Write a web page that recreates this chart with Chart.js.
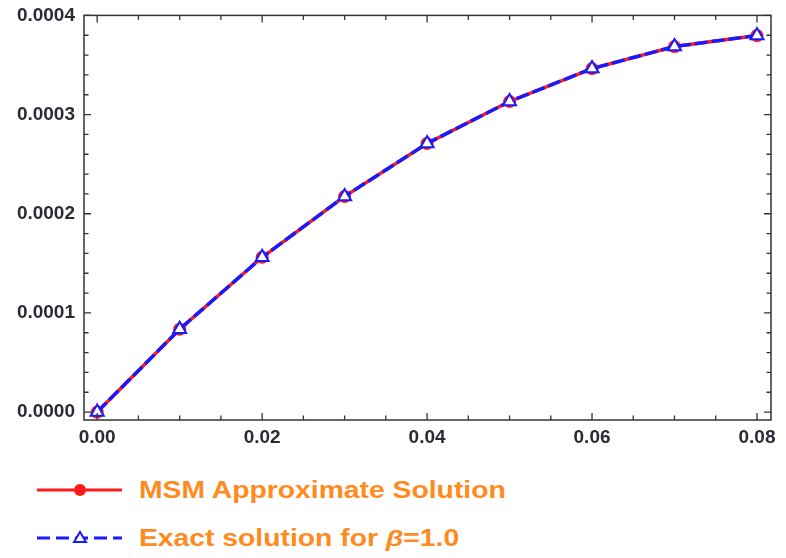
<!DOCTYPE html>
<html>
<head>
<meta charset="utf-8">
<script src="https://cdn.jsdelivr.net/npm/chart.js@4.4.1/dist/chart.umd.min.js"></script>
<style>
  html, body { margin: 0; padding: 0; background: #fff; }
  #wrap { position: relative; width: 786px; height: 558px; overflow: hidden; }
  #chartBox { position: absolute; left: 0; top: -5px; width: 786px; height: 465px; }
  .legend { position: absolute; left: 37px; display: flex; align-items: center; }
  .legend canvas { margin-right: 17px; }
  .legend span { font-family: "Liberation Sans", Arial, sans-serif; font-weight: bold; font-size: 23px;
                 color: #ff8a1e; display: inline-block; transform: scaleX(1.23); transform-origin: left center;
                 white-space: nowrap; }
</style>
</head>
<body>
<div id="wrap">
  <div id="chartBox"><canvas id="chart"></canvas></div>
  <div class="legend" id="leg1" style="top:476px"><canvas id="sw1" width="85" height="28"></canvas><span>MSM Approximate Solution</span></div>
  <div class="legend" id="leg2" style="top:524px"><canvas id="sw2" width="85" height="28"></canvas><span>Exact solution for <i>β</i>=1.0</span></div>
</div>
<script>
const tValues = [0.00, 0.01, 0.02, 0.03, 0.04, 0.05, 0.06, 0.07, 0.08];
const msmValues = [0.0000000, 0.0000836, 0.0001561, 0.0002175, 0.0002709, 0.0003132, 0.0003464, 0.0003686, 0.0003797];
const exactValues = [0.0000000, 0.0000836, 0.0001561, 0.0002175, 0.0002709, 0.0003132, 0.0003464, 0.0003686, 0.0003797];
const xTickValues = [0, 0.005, 0.01, 0.015, 0.02, 0.025, 0.03, 0.035, 0.04, 0.045, 0.05, 0.055, 0.06, 0.065, 0.07, 0.075, 0.08];
const yTickValues = [0, 0.00002, 0.00004, 0.00006, 0.00008, 0.0001, 0.00012, 0.00014, 0.00016, 0.00018, 0.0002,
                     0.00022, 0.00024, 0.00026, 0.00028, 0.0003, 0.00032, 0.00034, 0.00036, 0.00038, 0.0004];

const RED = '#ff1a1a';
const BLUE = '#1a1aff';
const labelColor = '#2b2b38';

function isMajor(v, step) {
    const r = v / step;
    return Math.abs(r - Math.round(r)) < 1e-6;
}

// frame + inward ticks on all four sides
const framePlugin = {
    id: 'frame',
    afterDatasetsDraw(chart) {
        const { ctx, chartArea: a, scales } = chart;
        ctx.save();
        ctx.strokeStyle = '#333';
        ctx.lineWidth = 1.5;
        ctx.strokeRect(a.left, a.top, a.right - a.left, a.bottom - a.top);
        ctx.lineWidth = 1.3;
        ctx.beginPath();
        xTickValues.forEach(v => {
            const x = scales.x.getPixelForValue(v);
            const len = isMajor(v, 0.02) ? 7 : 4.5;
            ctx.moveTo(x, a.bottom); ctx.lineTo(x, a.bottom - len);
            ctx.moveTo(x, a.top); ctx.lineTo(x, a.top + len);
        });
        yTickValues.forEach(v => {
            const y = scales.y.getPixelForValue(v);
            const len = isMajor(v, 0.0001) ? 7 : 4.5;
            ctx.moveTo(a.left, y); ctx.lineTo(a.left + len, y);
            ctx.moveTo(a.right, y); ctx.lineTo(a.right - len, y);
        });
        ctx.stroke();
        ctx.restore();
    }
};

const tickFont = { family: 'Liberation Sans', weight: 'bold', size: 19 };

new Chart(document.getElementById('chart'), {
    type: 'line',
    data: {
        labels: tValues,
        datasets: [
            {
                label: 'MSM Approximate Solution',
                data: tValues.map((t, i) => ({ x: t, y: msmValues[i] })),
                borderColor: RED,
                backgroundColor: RED,
                borderWidth: 3.5,
                pointStyle: 'circle',
                pointRadius: 6.5,
                pointBorderWidth: 0,
                tension: 0,
                order: 2
            },
            {
                label: 'Exact solution for β=1.0',
                data: tValues.map((t, i) => ({ x: t, y: exactValues[i] })),
                borderColor: BLUE,
                backgroundColor: '#ffffff',
                borderWidth: 3.5,
                borderDash: [13, 4],
                pointStyle: 'triangle',
                pointRadius: 7.5,
                pointBorderWidth: 2,
                pointBorderColor: BLUE,
                tension: 0,
                order: 1
            }
        ]
    },
    options: {
        responsive: true,
        maintainAspectRatio: false,
        animation: false,
        layout: { padding: { top: 5, right: 15, left: 0, bottom: 0 } },
        plugins: {
            legend: { display: false },
            tooltip: { enabled: false }
        },
        scales: {
            x: {
                type: 'linear',
                min: -0.0016,
                max: 0.0817,
                afterBuildTicks: s => { s.ticks = xTickValues.map(v => ({ value: v })); },
                afterFit: s => { s.height = 40; },
                grid: { display: false, drawTicks: false, tickLength: 0 },
                border: { display: false },
                ticks: {
                    autoSkip: false,
                    maxRotation: 0,
                    color: labelColor,
                    font: tickFont,
                    padding: 6,
                    callback: v => isMajor(v, 0.02) ? v.toFixed(2) : ''
                }
            },
            y: {
                type: 'linear',
                min: -0.000008,
                max: 0.0004,
                afterBuildTicks: s => { s.ticks = yTickValues.map(v => ({ value: v })); },
                afterFit: s => { s.width = 84; },
                grid: { display: false, drawTicks: false, tickLength: 0 },
                border: { display: false },
                ticks: {
                    autoSkip: false,
                    color: labelColor,
                    font: tickFont,
                    padding: 9,
                    callback: v => isMajor(v, 0.0001) ? v.toFixed(4) : ''
                }
            }
        }
    },
    plugins: [framePlugin]
});

// legend swatches
function swatch(id, color, dashed, marker) {
    const c = document.getElementById(id).getContext('2d');
    c.strokeStyle = color;
    c.lineWidth = 3;
    if (dashed) c.setLineDash([13, 6]);
    c.beginPath(); c.moveTo(0, 14); c.lineTo(85, 14); c.stroke();
    c.setLineDash([]);
    if (marker === 'circle') {
        c.fillStyle = color;
        c.beginPath(); c.arc(43, 14, 6, 0, Math.PI * 2); c.fill();
    } else {
        c.fillStyle = '#fff';
        c.lineWidth = 2;
        c.beginPath(); c.moveTo(43, 8); c.lineTo(49, 18); c.lineTo(37, 18); c.closePath();
        c.fill(); c.stroke();
    }
}
swatch('sw1', RED, false, 'circle');
swatch('sw2', BLUE, true, 'triangle');
</script>
</body>
</html>
